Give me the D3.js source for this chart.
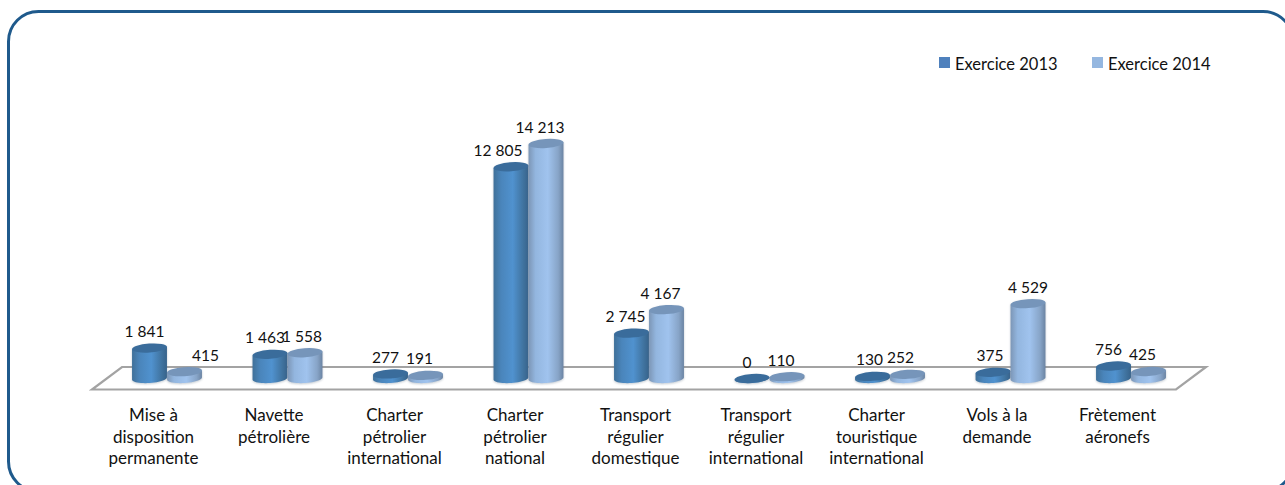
<!DOCTYPE html>
<html lang="fr">
<head>
<meta charset="utf-8">
<title>Exercices 2013 et 2014</title>
<script src="https://cdn.jsdelivr.net/npm/d3@7"></script>
<style>
  html, body { margin: 0; padding: 0; background: #fff; }
  svg { display: block; }
  text { font-family: Lato, "Open Sans", sans-serif; fill: #111; }
</style>
</head>
<body>
<svg id="chart" width="1285" height="485"></svg>
<script>
// Category labels, one entry per wrapped line
const categories = [
  ["Mise à", "disposition", "permanente"],
  ["Navette", "pétrolière"],
  ["Charter", "pétrolier", "international"],
  ["Charter", "pétrolier", "national"],
  ["Transport", "régulier", "domestique"],
  ["Transport", "régulier", "international"],
  ["Charter", "touristique", "international"],
  ["Vols à la", "demande"],
  ["Frètement", "aéronefs"]
];
const seriesNames = ["Exercice 2013", "Exercice 2014"];
const values2013 = [1841, 1463, 277, 12805, 2745, 0, 130, 375, 756];
const values2014 = [415, 1558, 191, 14213, 4167, 110, 252, 4529, 425];

// Horizontal shifts of the data labels, which sit off-centre to avoid each other
const labelShift2013 = [-5, -5, -5, -13, -6, -5, -3, -3, -5];
const labelShift2014 = [21, -3, -6, -6, -6, -6, -7, 0, -6];

const svg = d3.select("#chart");
const fmt = v => d3.format(",")(v).replace(/,/g, " ");

// Scales
const groupWidth = 70;
const x = d3.scaleBand().domain(d3.range(categories.length)).range([106.75, 1191.25]);
const xSeries = d3.scaleBand().domain([0, 1]).range([0, groupWidth]);
const y = d3.scaleLinear().domain([0, 14213]).range([378.5, 143.5]);
const groupCentre = i => x(i) + x.bandwidth() / 2;

// Cylinder geometry: the ellipses lean slightly upward to the right
const rx = xSeries.bandwidth() / 2;
const ry = 4.5;
const tilt = -4;
const cosT = Math.cos(tilt * Math.PI / 180);
const sinT = Math.sin(tilt * Math.PI / 180);
const rimPoint = (cx, cy, a) => {
  const px = rx * Math.cos(a), py = ry * Math.sin(a);
  return [cx + px * cosT - py * sinT, cy + px * sinT + py * cosT];
};
const halfTurn = d3.range(0, 25).map(k => Math.PI * (1 - k / 24));

// Card outline, running off the right and bottom edges
svg.append("rect")
  .attr("x", 8.5).attr("y", 11.5)
  .attr("width", 1284.5).attr("height", 480)
  .attr("rx", 30).attr("ry", 30)
  .attr("fill", "#fff")
  .attr("stroke", "#1f5a8c").attr("stroke-width", 3);

// Body shading of the two series
const defs = svg.append("defs");
const bodyStops = [
  [["0%", "#3f7099"], ["22%", "#4a85bb"], ["55%", "#5092cf"], ["85%", "#40739f"], ["100%", "#37638b"]],
  [["0%", "#7c96b6"], ["20%", "#93b6df"], ["55%", "#a0c3ee"], ["85%", "#87a4c7"], ["100%", "#6b84a3"]]
];
bodyStops.forEach((stops, s) => {
  defs.append("linearGradient").attr("id", `body${s}`)
    .selectAll("stop").data(stops).join("stop")
    .attr("offset", d => d[0]).attr("stop-color", d => d[1]);
});
const topFill = ["#3a6c9b", "#7695ba"];
const legendFill = ["#4f81bd", "#95b7e0"];

// Floor of the 3D plot
const outline = d3.line();
svg.append("path")
  .attr("d", outline([[122, 367], [1206, 367], [1176, 389.5], [92, 389.5]]) + "Z")
  .attr("fill", "#fff")
  .attr("stroke", "#a3a3a3").attr("stroke-width", 2.2);

// Cylinders
const rows = categories.flatMap((c, i) => [
  { i, s: 0, v: values2013[i], shift: labelShift2013[i] },
  { i, s: 1, v: values2014[i], shift: labelShift2014[i] }
]);
const centre = d => groupCentre(d.i) - groupWidth / 2 + xSeries(d.s) + rx;

const bars = svg.append("g").selectAll("g").data(rows).join("g")
  .style("filter", "drop-shadow(0px 1px 1px rgba(90,110,130,0.35))");

bars.append("path")
  .attr("d", d => {
    const cx = centre(d);
    return outline([
      rimPoint(cx, y(d.v), Math.PI),
      ...halfTurn.map(a => rimPoint(cx, y(0), a)),
      rimPoint(cx, y(d.v), 0)
    ]) + "Z";
  })
  .attr("fill", d => `url(#body${d.s})`);

bars.append("ellipse")
  .attr("cx", 0).attr("cy", 0)
  .attr("rx", rx).attr("ry", ry)
  .attr("transform", d => `translate(${centre(d)},${y(d.v)}) rotate(${tilt})`)
  .attr("fill", d => topFill[d.s]);

// Data labels
svg.append("g").selectAll("text").data(rows).join("text")
  .attr("x", d => centre(d) + d.shift)
  .attr("y", d => y(d.v) - 11)
  .attr("text-anchor", "middle")
  .attr("font-size", 15.5)
  .text(d => fmt(d.v));

// Category labels, centred under the front edge of the floor
const cat = svg.append("g").selectAll("text").data(categories).join("text")
  .attr("text-anchor", "middle")
  .attr("font-size", 17)
  .attr("transform", (d, i) => `translate(${groupCentre(i) - 13.5},421)`);
cat.selectAll("tspan").data(d => d).join("tspan")
  .attr("x", 0)
  .attr("y", (d, i) => i * 21.7)
  .text(d => d);

// Legend
const legendX = d3.scaleOrdinal().domain(seriesNames).range([939, 1092]);
const legend = svg.append("g").selectAll("g").data(seriesNames).join("g")
  .attr("transform", d => `translate(${legendX(d)},57)`);
legend.append("rect")
  .attr("width", 11).attr("height", 11)
  .attr("fill", (d, i) => legendFill[i]);
legend.append("text")
  .attr("x", 16).attr("y", 12.5)
  .attr("font-size", 16.5)
  .text(d => d);
</script>
</body>
</html>
